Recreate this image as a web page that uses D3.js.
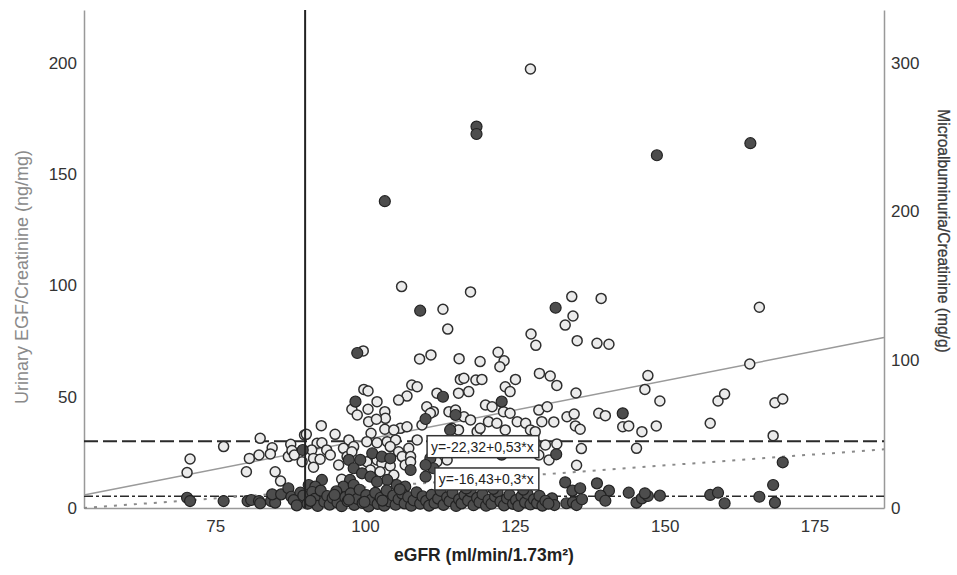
<!DOCTYPE html>
<html>
<head>
<meta charset="utf-8">
<script src="https://cdn.jsdelivr.net/npm/d3@7"></script>
<style>
  body { margin: 0; background: #fff; }
  svg { font-family: "Liberation Sans", Arial, sans-serif; }
</style>
</head>
<body>
<div id="vis-container"></div>
<script>
const width = 957;
const height = 575;
const margin = { top: 10, right: 73, bottom: 67, left: 84 };

// axis ranges and ticks
const xDomain = [53.1, 186.6];
const xTicks = [75, 100, 125, 150, 175];
const egfDomain = [0, 223.8];
const egfTicks = [0, 50, 100, 150, 200];
const albDomain = [0, 335.7];
const albTicks = [0, 100, 200, 300];

// eGFR vs urinary EGF/creatinine (open circles, left axis)
const egfPoints = [
  [70.8,22.0],[70.3,15.9],[76.4,27.6],[82.5,31.3],[84.5,27.1],[80.7,22.3],[82.3,23.8],[84.2,24.3],
  [80.2,16.3],[85.0,16.3],[85.9,12.1],[87.6,28.6],[87.2,23.1],[89.9,32.8],
  [99.8,53.3],[100.5,52.6],[107.8,55.3],[108.7,54.5],[107.0,50.3],[105.6,48.5],[102.0,47.8],[97.8,44.4],
  [98.7,41.8],[100.5,44.4],[103.3,43.3],[103.4,40.3],[100.6,38.8],[101.9,39.9],[92.7,37.0],[95.0,33.1],
  [105.9,35.8],[107.0,36.5],[103.3,35.4],[104.8,35.1],[101.0,33.6],[90.2,33.1],[97.3,30.6],[92.0,29.1],
  [92.8,29.3],[100.3,29.8],[102.0,29.3],[103.7,29.8],[105.1,30.6],[108.7,30.6],[87.8,25.8],[91.1,26.1],
  [93.6,26.1],[96.4,26.8],[98.1,27.6],[104.2,27.6],[105.6,25.3],[107.3,26.8],[91.4,22.3],[92.5,21.9],
  [94.2,23.8],[89.5,20.8],[97.0,23.1],[97.8,25.3],[106.2,23.1],[107.6,23.1],[100.3,20.8],[102.0,21.6],
  [102.8,20.1],[104.2,18.9],[95.6,19.3],[91.4,18.3],[106.7,19.3],[107.6,20.8],[100.9,17.1],[102.5,16.3],
  [96.1,12.9],[104.8,14.8],[88.2,23.8],
  [117.3,52.3],[115.6,51.6],[112.0,51.6],[123.4,54.5],[124.2,52.3],[120.1,46.3],[121.2,45.5],[110.3,45.5],
  [111.4,43.3],[110.9,42.6],[114.0,43.3],[115.1,44.0],[123.1,43.3],[124.2,42.6],[129.0,44.0],[130.4,45.5],
  [116.5,41.0],[117.6,39.6],[120.6,38.8],[122.0,38.1],[125.4,38.8],[126.8,38.1],[129.5,38.8],[109.5,37.3],
  [114.5,35.8],[115.6,35.1],[118.7,34.3],[119.2,35.8],[127.6,35.1],[128.4,34.3],[123.4,35.1],[130.1,28.3],
  [128.4,29.1],[113.7,21.6],[112.0,20.8],[129.0,23.8],[130.7,21.6],
  [127.6,197.3],[106.1,99.5],[117.6,97.1],[113.0,89.3],[113.8,80.4],[127.7,78.2],[128.5,73.1],[99.7,70.6],
  [109.1,67.0],[111.0,68.8],[115.7,67.1],[119.2,65.8],[122.2,70.0],[123.2,66.2],[122.5,63.5],[129.1,60.5],
  [130.9,59.3],[115.9,57.8],[116.5,58.3],[118.5,57.5],[119.5,57.8],[125.1,57.8],
  [134.5,95.0],[139.4,94.2],[134.7,86.3],[133.4,82.2],[165.8,90.2],[135.4,75.2],[138.7,74.0],[140.7,73.6],
  [164.2,64.7],[132.0,55.1],[135.2,51.7],[147.2,59.5],[146.7,53.3],[149.2,48.1],[158.9,48.1],[160.0,51.2],
  [168.4,47.3],[169.7,49.0],[133.7,41.0],[134.9,42.2],[131.5,38.7],[139.0,42.6],[140.1,41.5],[135.1,36.9],
  [135.9,35.4],[143.0,36.5],[144.0,36.9],[146.2,34.3],[148.6,36.9],[157.6,38.1],[168.1,32.5],[132.0,28.8],
  [136.1,26.7],[145.3,26.8],[135.3,19.2]
];

// eGFR vs microalbuminuria/creatinine (filled circles, right axis)
const albPoints = [
  [103.3,206.8],[118.6,257.1],[118.6,252.1],[148.7,237.8],[164.3,245.9],[109.2,133.0],[98.7,104.5],[131.8,135.0],
  [143.0,63.8],[131.9,36.2],[169.7,30.8],[133.4,17.3],[138.7,16.6],[134.6,11.7],[135.9,13.3],[140.7,11.7],
  [139.3,8.3],[140.1,4.9],[144.0,10.3],[145.3,3.6],[146.2,6.5],[147.2,8.1],[146.7,9.9],[149.2,8.3],
  [157.6,8.8],[158.9,10.3],[160.0,3.2],[165.8,7.6],[168.1,15.5],[168.4,3.6],[131.2,6.5],[131.6,2.0],
  [133.6,3.2],[134.7,3.8],[135.3,2.0],[136.2,5.9],
  [70.3,6.9],[70.8,4.7],[76.4,4.7],[80.4,4.7],[81.0,5.4],[82.3,4.7],[82.5,3.2],[84.3,4.7],
  [85.0,3.6],[84.5,9.2],[86.0,9.2],[87.2,13.3],[87.7,7.6],[89.2,10.3],[89.3,4.2],
  [98.4,71.7],[89.6,39.1],[97.3,32.4],[99.2,32.4],[101.2,36.9],[102.8,34.6],[98.1,26.8],[99.5,23.4],
  [104.2,33.5],[107.6,25.6],[103.7,18.9],[100.9,21.1],[92.8,18.9],[97.5,18.9],[102.0,17.7],[90.6,15.5],
  [91.7,14.4],[105.3,15.5],[106.7,14.4],[96.4,14.4],[98.1,15.5],
  [122.8,71.7],[115.1,62.7],[110.1,60.0],[114.2,52.6],[122.8,36.0],[110.9,33.5],[111.4,26.8],[110.1,29.0],
  [113.0,75.0],[110.1,21.1],
  [88.1,5.3],[88.6,1.8],[89.7,8.4],[90.4,2.9],[91.2,10.8],[91.6,6.1],[92.1,1.4],[92.6,11.7],
  [93.2,4.2],[93.7,8.1],[94.1,2.3],[94.6,6.8],[95.2,11.2],[95.4,3.7],[96.1,1.2],[96.7,7.3],
  [97.1,4.6],[97.6,9.8],[98.2,2.1],[98.7,6.2],[99.1,12.3],[99.6,3.4],[100.2,8.7],[100.6,1.1],
  [101.1,5.7],[101.7,10.2],[102.1,2.8],[102.6,6.9],[103.2,1.6],[103.6,11.8],[104.1,4.4],[104.7,8.3],
  [105.1,2.2],[105.6,5.9],[106.2,9.7],[106.6,3.1],[107.2,7.4],[107.7,1.5],[108.1,5.2],[108.6,10.6],
  [109.2,2.9],[109.6,7.8],[97.3,5.6],[99.9,4.1],[102.9,5.0],[94.9,8.8],[90.9,4.8],[105.8,12.6],
  [110.2,4.8],[110.7,1.6],[111.1,8.8],[111.6,3.4],[112.2,6.3],[112.6,11.6],[113.1,2.1],[113.7,7.2],
  [114.1,4.6],[114.6,10.1],[115.2,1.4],[115.7,5.8],[116.1,3.1],[116.6,8.7],[117.2,5.1],[117.6,11.2],
  [118.1,1.9],[118.7,6.8],[119.1,3.9],[119.6,9.3],[120.2,1.5],[120.6,5.4],[121.1,2.9],[121.7,7.8],
  [122.1,10.7],[122.6,4.3],[123.2,1.8],[123.7,6.4],[124.1,8.9],[124.7,2.8],[125.2,5.3],[125.6,1.4],
  [126.1,7.9],[126.7,3.8],[127.1,9.6],[127.6,2.4],[128.2,5.8],[128.7,3.3],[129.1,8.2],[129.6,1.6],
  [130.1,4.9],[130.6,2.9],[116.9,13.2],[121.4,12.9],[126.4,12.4]
];

// regression fits (intercept, slope) and horizontal reference lines
const fits = [
  { label: "y=-22,32+0,53*x", a: -22.32, b: 0.53, axis: "egf", labelAt: [129, 27.5] },
  { label: "y=-16,43+0,3*x",  a: -16.43, b: 0.3,  axis: "alb", labelAt: [129, 13.0] }
];
const refEgf = 30;
const refAlb = 8;
const refEgfr = 90;

const svg = d3.select("#vis-container")
  .append("svg")
  .attr("width", width)
  .attr("height", height);

const x = d3.scaleLinear().domain(xDomain).range([margin.left, width - margin.right]);
const yL = d3.scaleLinear().domain(egfDomain).range([height - margin.bottom, margin.top]);
const yR = d3.scaleLinear().domain(albDomain).range([height - margin.bottom, margin.top]);
const yScale = { egf: yL, alb: yR };

// axes
svg.append("g")
  .attr("transform", `translate(0,${height - margin.bottom})`)
  .call(d3.axisBottom(x).tickValues(xTicks).tickSize(0).tickPadding(12))
  .call(g => g.select(".domain").attr("stroke", "#999").attr("stroke-width", 1.5))
  .call(g => g.selectAll("text").attr("font-size", "17px").attr("fill", "#333"));

svg.append("g")
  .attr("transform", `translate(${margin.left},0)`)
  .call(d3.axisLeft(yL).tickValues(egfTicks).tickSize(0).tickPadding(7))
  .call(g => g.select(".domain").attr("stroke", "#999").attr("stroke-width", 1.5))
  .call(g => g.selectAll("text").attr("font-size", "17px").attr("fill", "#333"));

svg.append("g")
  .attr("transform", `translate(${width - margin.right},0)`)
  .call(d3.axisRight(yR).tickValues(albTicks).tickSize(0).tickPadding(7))
  .call(g => g.select(".domain").attr("stroke", "#999").attr("stroke-width", 1.5))
  .call(g => g.selectAll("text").attr("font-size", "17px").attr("fill", "#333"));

// axis titles
svg.append("text")
  .attr("transform", `translate(28,277) rotate(-90)`)
  .attr("text-anchor", "middle")
  .attr("font-size", "18px")
  .attr("fill", "#8a8a8a")
  .text("Urinary EGF/Creatinine (ng/mg)");

svg.append("text")
  .attr("transform", `translate(938,231) rotate(90)`)
  .attr("text-anchor", "middle")
  .attr("font-size", "15.6px")
  .attr("fill", "#3a3a3a")
  .attr("stroke", "#3a3a3a")
  .attr("stroke-width", 0.3)
  .text("Microalbuminuria/Creatinine (mg/g)");

svg.append("text")
  .attr("x", 484)
  .attr("y", 561)
  .attr("text-anchor", "middle")
  .attr("font-size", "17.5px")
  .attr("font-weight", "bold")
  .attr("fill", "#222")
  .text("eGFR (ml/min/1.73m²)");

// reference lines
svg.append("line")
  .attr("x1", x(xDomain[0])).attr("x2", x(xDomain[1]))
  .attr("y1", yL(refEgf)).attr("y2", yL(refEgf))
  .attr("stroke", "#2a2a2a").attr("stroke-width", 2)
  .attr("stroke-dasharray", "14,5");

svg.append("line")
  .attr("x1", x(xDomain[0])).attr("x2", x(xDomain[1]))
  .attr("y1", yR(refAlb)).attr("y2", yR(refAlb))
  .attr("stroke", "#2a2a2a").attr("stroke-width", 1.5)
  .attr("stroke-dasharray", "9,3,3,3");

// regression lines
fits.forEach((f) => {
  const ys = yScale[f.axis];
  const pts = xDomain.map(v => [v, Math.max(0, f.a + f.b * v)]);
  svg.append("path")
    .datum(pts)
    .attr("fill", "none")
    .attr("stroke", f.axis === "egf" ? "#9a9a9a" : "#8a8a8a")
    .attr("stroke-width", f.axis === "egf" ? 1.5 : 2)
    .attr("stroke-dasharray", f.axis === "egf" ? null : "3,7")
    .attr("d", d3.line().x(d => x(d[0])).y(d => ys(d[1])));
});

// open circles
svg.append("g")
  .selectAll("circle")
  .data(egfPoints)
  .enter()
  .append("circle")
    .attr("cx", d => x(d[0]))
    .attr("cy", d => yL(d[1]))
    .attr("r", 5)
    .attr("fill", "#ebebeb")
    .attr("stroke", "#2e2e2e")
    .attr("stroke-width", 1.5);

// filled circles
svg.append("g")
  .selectAll("circle")
  .data(albPoints)
  .enter()
  .append("circle")
    .attr("cx", d => x(d[0]))
    .attr("cy", d => yR(d[1]))
    .attr("r", 5.5)
    .attr("fill", "#4d4d4d")
    .attr("stroke", "#222")
    .attr("stroke-width", 1.2);

// vertical eGFR cut-off
svg.append("line")
  .attr("x1", x(refEgfr)).attr("x2", x(refEgfr))
  .attr("y1", margin.top).attr("y2", height - margin.bottom)
  .attr("stroke", "#222").attr("stroke-width", 2);

// equation labels
fits.forEach((f) => {
  const g = svg.append("g");
  const t = g.append("text")
    .attr("x", x(f.labelAt[0]) - 5)
    .attr("y", yL(f.labelAt[1]))
    .attr("dy", "0.35em")
    .attr("text-anchor", "end")
    .attr("font-size", "14px")
    .attr("fill", "#222")
    .text(f.label);
  const bb = t.node().getBBox();
  g.insert("rect", "text")
    .attr("x", bb.x - 4).attr("y", bb.y - 3)
    .attr("width", bb.width + 9).attr("height", bb.height + 6)
    .attr("fill", "#fff").attr("stroke", "#333").attr("stroke-width", 1.5);
});
</script>
</body>
</html>
